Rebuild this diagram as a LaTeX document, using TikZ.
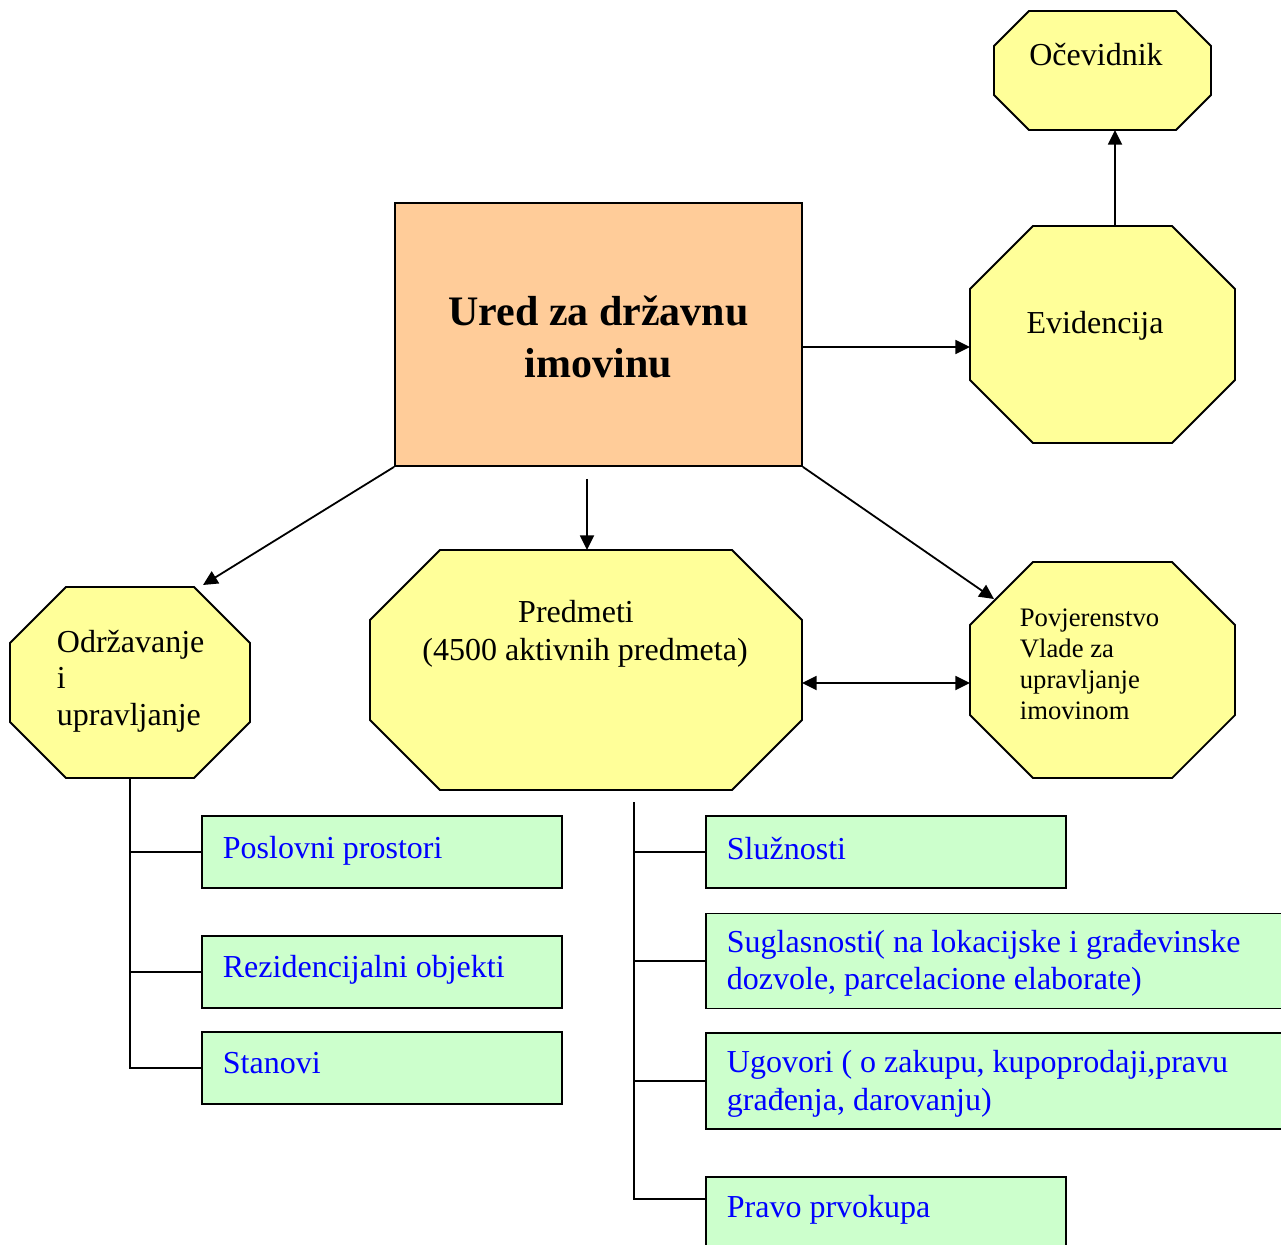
\documentclass[tikz,border=0pt]{standalone}
\usepackage{fontspec}
\setmainfont{Liberation Serif}
\usetikzlibrary{arrows.meta,calc}
\definecolor{yel}{HTML}{FFFF99}
\definecolor{peach}{HTML}{FFCC99}
\definecolor{grn}{HTML}{CCFFCC}
\definecolor{txtblue}{HTML}{0000FF}
\newcommand\Lstack[1]{\vtop{\let\\\cr\halign{##\hfil\cr#1\crcr}}}
\newcommand\Cstack[1]{\vtop{\let\\\cr\halign{\hfil##\hfil\cr#1\crcr}}}
% octagon drawn on the border box of a named node: #1 name, #2 cut (px)
\newcommand\octagonOn[2]{%
  \filldraw[fill=yel] ($(#1.north west)+(#2,0)$) -- ($(#1.north east)+(-#2,0)$)
    -- ($(#1.north east)+(0,#2)$) -- ($(#1.south east)+(0,-#2)$)
    -- ($(#1.south east)+(-#2,0)$) -- ($(#1.south west)+(#2,0)$)
    -- ($(#1.south west)+(0,-#2)$) -- ($(#1.north west)+(0,#2)$) -- cycle;}
\begin{document}
\begin{tikzpicture}[x=0.75pt,y=-0.75pt,line width=1.35pt,
  octbox/.style={rectangle, inner sep=0pt, outer sep=0pt},
  gbox/.style={draw, fill=grn, inner sep=0pt},
  arr/.style={-{Triangle[length=11pt,width=10.5pt]}},
  darr/.style={{Triangle[length=11pt,width=10.5pt]}-{Triangle[length=11pt,width=10.5pt]}},
  btxt/.style={text=txtblue, font=\fontsize{24pt}{27.75pt}\selectfont, anchor=base west, inner sep=0pt},
  ktxt/.style={font=\fontsize{24pt}{27.75pt}\selectfont, inner sep=0pt}
]
\useasboundingbox (0,0) rectangle (1281,1245);
\clip (0,0) rectangle (1281,1245);

% main nodes
\node[draw, fill=peach, minimum width=305.25pt, minimum height=197.25pt, inner sep=0pt] (ured) at (598.5,334.5) {};
\node[octbox, minimum width=162.75pt, minimum height=89.25pt] (oce) at (1102.5,70.5) {};
\node[octbox, minimum width=198.75pt, minimum height=162.75pt] (evi) at (1102.5,334.5) {};
\node[octbox, minimum width=180pt, minimum height=143.25pt] (odr) at (130,682.5) {};
\node[octbox, minimum width=324pt, minimum height=180pt] (pred) at (586,670) {};
\node[octbox, minimum width=198.75pt, minimum height=162pt] (pov) at (1102.5,670) {};
\octagonOn{oce}{35}
\octagonOn{evi}{63}
\octagonOn{odr}{56}
\octagonOn{pred}{70}
\octagonOn{pov}{63}

% green boxes
\node[gbox, minimum width=270pt, minimum height=54pt] (b1) at (382,852) {};
\node[gbox, minimum width=270pt, minimum height=54pt] (b2) at (382,972) {};
\node[gbox, minimum width=270pt, minimum height=54pt] (b3) at (382,1068) {};
\node[gbox, minimum width=270pt, minimum height=54pt] (c1) at (886,852) {};
\node[gbox, minimum width=450pt, minimum height=71.25pt] (c2) at (1006,961) {};
\node[gbox, minimum width=450pt, minimum height=72pt] (c3) at (1006,1081) {};
\node[gbox, minimum width=270pt, minimum height=72pt] (c4) at (886,1225) {};

% texts
\node[font=\bfseries\fontsize{31.5pt}{39pt}\selectfont, anchor=base, inner sep=0pt] (tured) at (598.5,325) {\Cstack{Ured za državnu\\imovinu}};
\node[ktxt, anchor=base] (toce) at (1096,66) {Očevidnik};
\node[ktxt, anchor=base] (tevi) at (1095,333) {Evidencija};
\node[font=\fontsize{24pt}{28.5pt}\selectfont, inner sep=0pt, anchor=base] (tpred) at (585,622) {\Cstack{Predmeti\hspace*{13.5pt}\\(4500 aktivnih predmeta)}};
\node[font=\fontsize{24pt}{27.4pt}\selectfont, inner sep=0pt, anchor=base west] (todr) at (56,652) {\Lstack{Održavanje\\i\\upravljanje}};
\node[font=\fontsize{20pt}{23.25pt}\selectfont, inner sep=0pt, anchor=base west] (tpov) at (1019,626) {\Lstack{Povjerenstvo\\Vlade za\\upravljanje\\imovinom}};

\node[btxt] (tb1) at (222,858) {Poslovni prostori};
\node[btxt] (tb2) at (222,977) {Rezidencijalni objekti};
\node[btxt] (tb3) at (222,1073) {Stanovi};
\node[btxt] (tc1) at (726,859) {Služnosti};
\node[btxt] (tc2) at (726,952) {\Lstack{Suglasnosti( na lokacijske i građevinske\\dozvole, parcelacione elaborate)}};
\node[btxt, font=\fontsize{24pt}{28.5pt}\selectfont] (tc3) at (726,1072) {\Lstack{Ugovori ( o zakupu, kupoprodaji,pravu\\građenja, darovanju)}};
\node[btxt] (tc4) at (726,1217) {Pravo prvokupa};

% arrows
\draw[arr] ($(evi.north)+(12.5,0)$) -- ($(oce.south)+(12.5,0)$);
\draw[arr] ($(ured.east)+(0,12.5)$) -- ($(evi.west)+(0,12.5)$);
\draw[arr] (ured.south west) -- ($(odr.north)+(73,-2)$);
\draw[arr] ($(ured.south)+(-11.5,12)$) -- ($(pred.north)+(1,0)$);
\draw[arr] (ured.south east) -- ($(pov.west)+(24,-71)$);
\draw[darr] ($(pred.east)+(0,13)$) -- ($(pov.west)+(0,13)$);

% trees
\draw (odr.south) |- (b1.west);
\draw (odr.south) |- (b2.west);
\draw (odr.south) |- (b3.west);
\coordinate (t2) at ($(pred.south)+(48,12)$);
\draw (t2) |- (c1.west);
\draw (t2) |- (c2.west);
\draw (t2) |- (c3.west);
\draw (t2) |- ($(c4.north west)+(0,23)$);
\end{tikzpicture}
\end{document}
